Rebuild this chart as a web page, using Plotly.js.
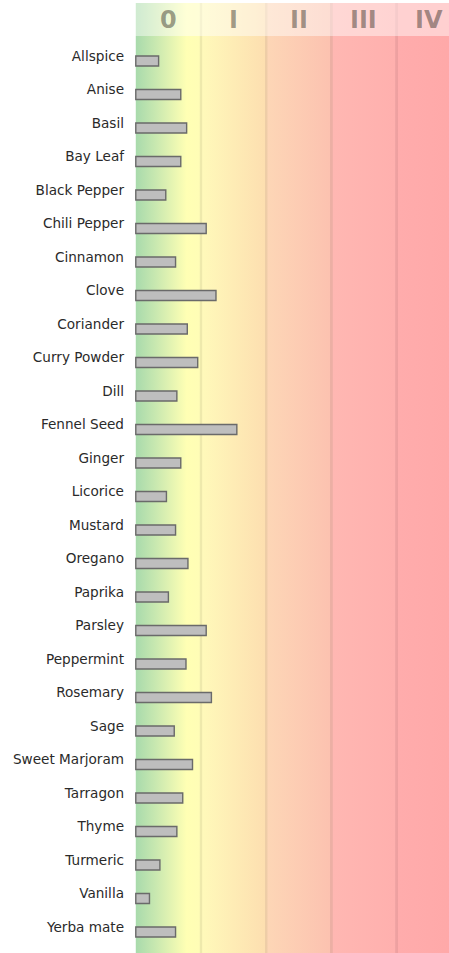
<!DOCTYPE html>
<html>
<head>
<meta charset="utf-8">
<script src="https://cdn.plot.ly/plotly-3.0.1.min.js"></script>
<style>
  html, body { margin: 0; padding: 0; background: #ffffff; }
  #chart { width: 449px; height: 953px; }
</style>
</head>
<body>
<div id="chart"></div>
<script>
// ---- data ----
const spices = [
  "Allspice", "Anise", "Basil", "Bay Leaf", "Black Pepper", "Chili Pepper",
  "Cinnamon", "Clove", "Coriander", "Curry Powder", "Dill", "Fennel Seed",
  "Ginger", "Licorice", "Mustard", "Oregano", "Paprika", "Parsley",
  "Peppermint", "Rosemary", "Sage", "Sweet Marjoram", "Tarragon", "Thyme",
  "Turmeric", "Vanilla", "Yerba mate"
];
const values = [
  0.35, 0.69, 0.78, 0.69, 0.46, 1.08,
  0.61, 1.23, 0.79, 0.95, 0.63, 1.55,
  0.69, 0.47, 0.61, 0.80, 0.50, 1.08,
  0.77, 1.16, 0.59, 0.87, 0.72, 0.63,
  0.37, 0.21, 0.61
];
const classLabels = ["0", "I", "II", "III", "IV"];

// ---- layout geometry ----
const W = 449, H = 953;
const M = { l: 135, r: 0, t: 3, b: 0 };
const plotH = H - M.t - M.b;
const plotW = W - M.l - M.r;
const rowPx = 33.5;       // pixels per category row
const firstRowPx = 53;    // first row centre below plot top
const bandPx = 65.2;      // pixels per class band
const yTop = -firstRowPx / rowPx;
const yBottom = yTop + plotH / rowPx;
const nBands = classLabels.length;

// background gradient colour stops (x in class units)
const gradStops = [
  [0.00, "rgb(168,218,172)"],
  [0.30, "rgb(200,232,176)"],
  [0.78, "rgb(255,255,180)"],
  [0.975, "rgb(255,253,182)"],
  [0.985, "rgb(238,234,172)"],
  [1.015, "rgb(238,232,172)"],
  [1.025, "rgb(255,249,186)"],
  [1.975, "rgb(253,223,176)"],
  [1.985, "rgb(238,206,166)"],
  [2.015, "rgb(238,204,168)"],
  [2.025, "rgb(253,214,182)"],
  [2.975, "rgb(252,194,176)"],
  [2.985, "rgb(236,176,164)"],
  [3.015, "rgb(236,174,164)"],
  [3.025, "rgb(255,183,178)"],
  [3.975, "rgb(255,176,174)"],
  [3.985, "rgb(238,162,162)"],
  [4.015, "rgb(238,160,160)"],
  [4.025, "rgb(255,172,172)"],
  [5.00, "rgb(255,168,168)"]
];
const colorscale = gradStops.map(s => [s[0] / nBands, s[1]]);

const background = {
  type: "scatter",
  x: [0, nBands, nBands, 0, 0],
  y: [0, 0, 1, 1, 0],
  xaxis: "x",
  yaxis: "y2",
  mode: "none",
  fill: "toself",
  fillgradient: { type: "horizontal", start: 0, stop: nBands, colorscale: colorscale },
  hoverinfo: "skip",
  showlegend: false
};

const bars = {
  type: "bar",
  orientation: "h",
  y: spices,
  x: values,
  xaxis: "x",
  yaxis: "y",
  width: 0.298,
  offset: 0,
  marker: { color: "#bebebe", line: { color: "#6a6a6a", width: 1.4 } },
  hoverinfo: "x+y",
  showlegend: false
};

const annotations = classLabels.map((lab, i) => ({
  x: i + 0.5,
  xref: "x",
  y: 1 - 16.5 / plotH,
  yref: "paper",
  text: lab,
  showarrow: false,
  xanchor: "center",
  yanchor: "middle",
  font: { family: "DejaVu Sans", size: 24, weight: "bold", color: "rgba(45,40,30,0.45)" }
}));

const layout = {
  width: W,
  height: H,
  margin: M,
  paper_bgcolor: "#ffffff",
  plot_bgcolor: "rgba(0,0,0,0)",
  showlegend: false,
  font: { family: "DejaVu Sans", size: 13.6, color: "#2a2a2a" },
  xaxis: {
    range: [-0.012, plotW / bandPx - 0.012],
    showgrid: false,
    zeroline: false,
    showticklabels: false,
    ticks: "",
    showline: false,
    fixedrange: true
  },
  yaxis: {
    type: "category",
    categoryorder: "array",
    categoryarray: spices,
    range: [yBottom, yTop],
    overlaying: "y2",
    showgrid: false,
    zeroline: false,
    showline: false,
    ticks: "",
    ticklabelstandoff: 10,
    fixedrange: true
  },
  yaxis2: {
    range: [0, 1],
    visible: false,
    showgrid: false,
    zeroline: false,
    fixedrange: true
  },
  shapes: [{
    type: "rect",
    xref: "paper", yref: "paper",
    x0: 0, x1: 1,
    y0: 1 - 33 / plotH, y1: 1,
    fillcolor: "rgba(255,255,255,0.45)",
    line: { width: 0 },
    layer: "above"
  }],
  annotations: annotations
};

Plotly.newPlot("chart", [background, bars], layout, { displayModeBar: false, staticPlot: true });
</script>
</body>
</html>
